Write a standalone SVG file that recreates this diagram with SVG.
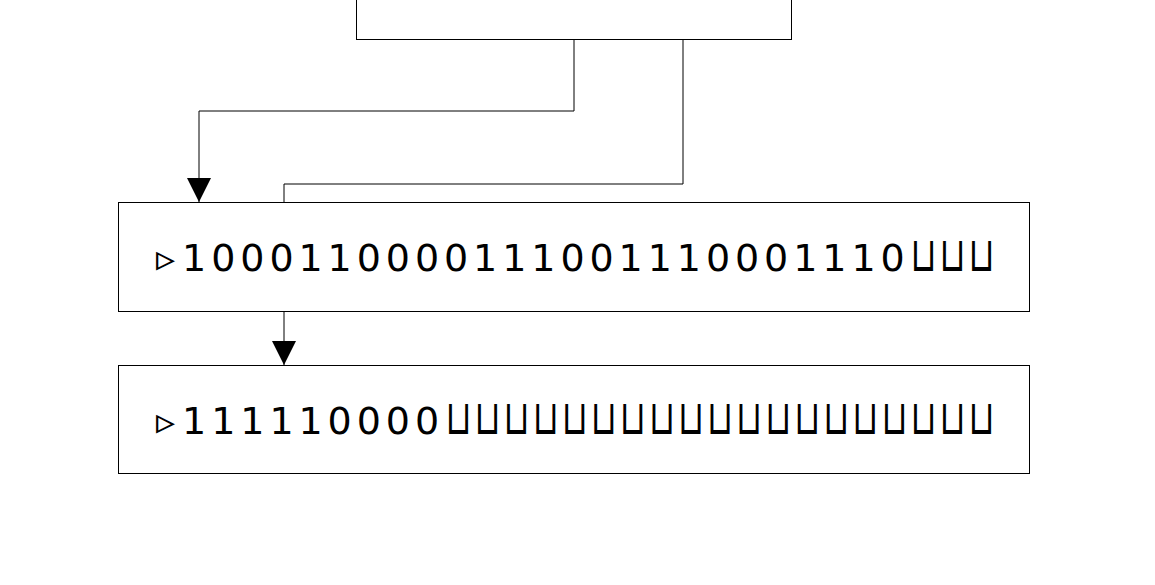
<svg xmlns="http://www.w3.org/2000/svg" width="1155" height="585" viewBox="0 0 1155 585">
<style>
.box{fill:#fff;stroke:#000;stroke-width:1}
.conn{fill:none;stroke:#000;stroke-width:1}
.tape{font-family:"DejaVu Sans",sans-serif;font-size:38px;fill:#000}
.blank{font-family:"DejaVu Sans",sans-serif;font-size:48px;fill:#000}
</style>
<defs>
<marker id="arr" markerUnits="userSpaceOnUse" markerWidth="24" markerHeight="24" refX="22" refY="11" orient="auto" viewBox="0 0 22 22">
<path d="M0,0 L22,11 L0,22 Z" fill="#000"/>
</marker>
</defs>
<rect width="1155" height="585" fill="#fff"/>
<g id="top">
<rect class="box" x="356.5" y="-20.5" width="435" height="60"/>
</g>
<g id="connectors">
<path class="conn" d="M574,39 V111 H199 V202" marker-end="url(#arr)"/>
<path class="conn" d="M683,39 V184 H284 V202"/>
<path class="conn" d="M284,311 V365" marker-end="url(#arr)"/>
</g>
<g id="tape1">
<rect class="box" x="118.5" y="202.5" width="911" height="109"/>
<text class="tape" y="271" x="156 182.1 211.2 240.3 269.4 298.5 327.6 356.7 385.8 414.9 444 473.1 502.2 531.3 560.4 589.5 618.6 647.7 676.8 705.9 735 764.1 793.2 822.3 851.4 880.5">▹1000110000111001110001110</text>
<text class="blank" transform="scale(0.7,1)" y="271" x="1300.66 1342.17 1383.69">⊔⊔⊔</text>
</g>
<g id="tape2">
<rect class="box" x="118.5" y="365.5" width="911" height="108"/>
<text class="tape" y="434" x="156 182.1 211.2 240.3 269.4 298.5 327.6 356.7 385.8 414.9">▹111110000</text>
<text class="blank" transform="scale(0.7,1)" y="434" x="636.43 677.95 719.46 760.97 802.49 844 885.52 927.03 968.55 1010.06 1051.57 1093.09 1134.6 1176.12 1217.63 1259.15 1300.66 1342.17 1383.69">⊔⊔⊔⊔⊔⊔⊔⊔⊔⊔⊔⊔⊔⊔⊔⊔⊔⊔⊔</text>
</g>
</svg>
